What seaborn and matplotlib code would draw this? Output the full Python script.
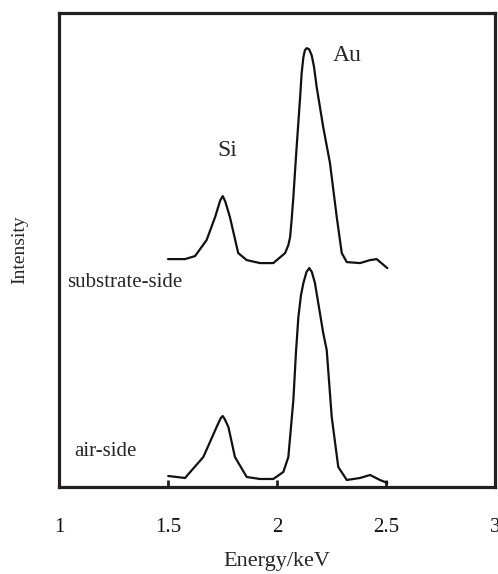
import numpy as np
import pandas as pd
import seaborn as sns
import matplotlib.pyplot as plt

# EDS spectra, intensity in arbitrary units (baseline offsets included)
substrate_energy = [1.50, 1.578, 1.624, 1.677, 1.716, 1.740, 1.751, 1.762, 1.784, 1.822,
                    1.861, 1.922, 1.983, 2.037, 2.052, 2.06, 2.067, 2.075, 2.083, 2.09,
                    2.098, 2.106, 2.113, 2.121, 2.128, 2.136, 2.147, 2.159, 2.170, 2.182,
                    2.212, 2.243, 2.274, 2.297, 2.32, 2.381, 2.427, 2.457, 2.506]
substrate_intensity = [228, 228, 231, 247, 270, 287, 291, 286, 270, 234,
                       227, 224, 224, 234, 242, 250, 267, 290, 317, 340,
                       365, 390, 414, 430, 437, 439, 438, 432, 420, 400,
                       360, 324, 270, 234, 225, 224, 227, 228, 219]

air_energy = [1.501, 1.578, 1.662, 1.723, 1.742, 1.751, 1.760, 1.777, 1.807, 1.861,
              1.922, 1.983, 2.029, 2.052, 2.075, 2.087, 2.098, 2.110, 2.121, 2.135,
              2.148, 2.160, 2.174, 2.212, 2.228, 2.251, 2.281, 2.32, 2.381, 2.427,
              2.472, 2.506]
air_intensity = [11, 9, 30, 60, 69, 71, 68, 60, 30, 10,
                 8, 8, 15, 30, 87, 135, 170, 192, 204, 215,
                 219, 215, 204, 154, 137, 70, 20, 7, 9, 12,
                 7, 4]

x_ticks = [1, 1.5, 2, 2.5, 3]
x_tick_labels = ["1", "1.5", "2", "2.5", "3"]

df = pd.concat([
    pd.DataFrame({"energy": substrate_energy, "intensity": substrate_intensity, "side": "substrate-side"}),
    pd.DataFrame({"energy": air_energy, "intensity": air_intensity, "side": "air-side"}),
])

sns.set_style("white")
plt.rcParams["font.family"] = ["Liberation Serif", "DejaVu Serif"]

fig = plt.figure(figsize=(4.98, 5.74), dpi=100)
ax = fig.add_axes([0.1185, 0.1516, 0.8755, 0.8254])

sns.lineplot(data=df, x="energy", y="intensity", hue="side", units="side", estimator=None,
             palette=["#111111", "#111111"], linewidth=1.6, legend=False, sort=False, ax=ax,
             solid_joinstyle="round", solid_capstyle="round")

ax.set_xlim(1, 3)
ax.set_ylim(0, 474)
ax.set_xticks(x_ticks)
ax.set_xticklabels(x_tick_labels, fontsize=15)
ax.tick_params(axis="x", bottom=True, direction="in", length=5, width=2, pad=22,
               colors="#231f20", labelcolor="#111111")
ax.set_yticks([])
for sp in ax.spines.values():
    sp.set_linewidth(2.3)
    sp.set_color("#231f20")

ax.set_xlabel("Energy/keV", fontsize=16, labelpad=11)
ax.set_ylabel("Intensity", fontsize=14, labelpad=22)

ax.text(1.037, 205, "substrate-side", fontsize=15, va="center", ha="left")
ax.text(1.069, 35, "air-side", fontsize=15, va="center", ha="left")
ax.text(1.771, 337, "Si", fontsize=17, va="center", ha="center")
ax.text(2.321, 432, "Au", fontsize=17, va="center", ha="center")

fig.savefig("out.png", dpi=100)
